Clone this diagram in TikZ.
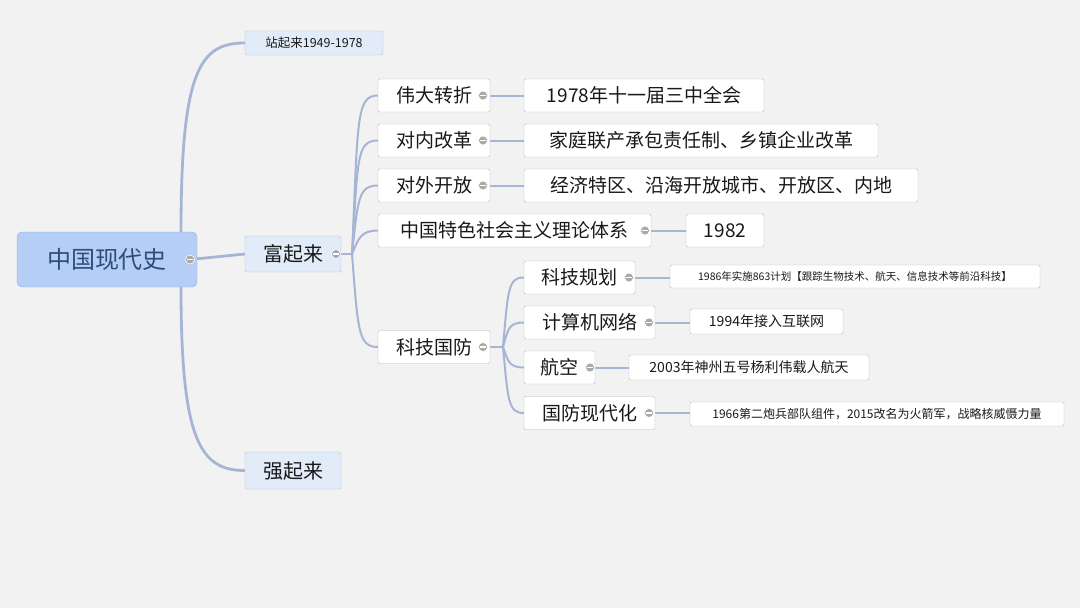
\documentclass[tikz,border=0pt]{standalone}
\usepackage{fontspec}
\usetikzlibrary{backgrounds}
\newfontfamily\cjk{Noto Sans CJK SC}
\definecolor{bg}{HTML}{F2F2F2}
\definecolor{ln}{HTML}{A6B5D6}
\definecolor{rootfill}{HTML}{B5CEF5}
\definecolor{rootdraw}{HTML}{8EACDB}
\definecolor{rootText}{HTML}{2E4C7C}
\definecolor{l1fill}{HTML}{E2EBF8}
\definecolor{l1draw}{HTML}{AFC2E0}
\definecolor{bdr}{HTML}{B8B8B8}
\definecolor{togc}{HTML}{A9A9A9}
\begin{document}
\begin{tikzpicture}[x=1pt,y=-1pt,
  box/.style={draw=bdr,fill=white,rounded corners=2pt,inner sep=0pt,font=\cjk,text=black!90},
  l1/.style={box,draw=l1draw,fill=l1fill},
  tog/.style={circle,fill=togc,draw=white,line width=0.6pt,minimum size=9pt,inner sep=0pt,
    path picture={\draw[white,line width=1.3pt] ([xshift=-2.6pt]path picture bounding box.center) -- ([xshift=2.6pt]path picture bounding box.center);}},
  con/.style={draw=ln,line width=2.8pt},
  con2/.style={draw=ln,line width=2pt}]
\useasboundingbox (0,0) rectangle (1080,608);
% nodes
\node[box,draw=rootdraw,fill=rootfill,text=rootText,rounded corners=5pt,minimum width=180pt,minimum height=55pt,font=\cjk\fontsize{24}{26}\selectfont] (root) at (107,259.5) {中国现代史};
\node[l1,minimum width=138pt,minimum height=24pt,font=\cjk\fontsize{12.5}{14}\selectfont] (zhan) at (314,43) {站起来1949-1978};
\node[l1,minimum width=96pt,minimum height=36pt,font=\cjk\fontsize{20}{22}\selectfont] (fu) at (293,254) {富起来};
\node[l1,minimum width=96pt,minimum height=37pt,font=\cjk\fontsize{20}{22}\selectfont] (qiang) at (293,470.5) {强起来};
\tikzset{b19/.style={box,minimum height=33pt,font=\cjk\fontsize{19}{21}\selectfont}}
\node[b19,minimum width=112pt] (weida) at (434,95.5) {伟大转折};
\node[b19,minimum width=112pt] (duinei) at (434,140.5) {对内改革};
\node[b19,minimum width=112pt] (duiwai) at (434,185.5) {对外开放};
\node[b19,minimum width=273pt] (zg) at (514.5,230.5) {中国特色社会主义理论体系};
\node[b19,minimum width=112pt] (keji) at (434,347) {科技国防};
\node[b19,minimum width=240pt] (y1978) at (644,95.5) {1978年十一届三中全会};
\node[b19,minimum width=354pt] (jt) at (701,140.5) {家庭联产承包责任制、乡镇企业改革};
\node[b19,minimum width=394pt] (jj) at (721,185.5) {经济特区、沿海开放城市、开放区、内地};
\node[b19,minimum width=78pt] (y1982) at (725,230.5) {1982};
\node[b19,minimum width=111pt] (kjgh) at (579.5,277.5) {科技规划};
\node[b19,minimum width=131pt] (jsj) at (589.5,322.5) {计算机网络};
\node[b19,minimum width=71pt] (hk) at (559.5,367.5) {航空};
\node[b19,minimum width=131pt] (gf) at (589.5,413) {国防现代化};
\node[box,minimum width=370pt,minimum height=23pt,font=\cjk\fontsize{10.5}{12}\selectfont] (y1986) at (855,276.5) {1986年实施863计划【跟踪生物技术、航天、信息技术等前沿科技】};
\node[box,minimum width=153pt,minimum height=25pt,font=\cjk\fontsize{14}{16}\selectfont] (y1994) at (766.5,321.5) {1994年接入互联网};
\node[box,minimum width=240pt,minimum height=25pt,font=\cjk\fontsize{14}{16}\selectfont] (y2003) at (749,367.5) {2003年神州五号杨利伟载人航天};
\node[box,minimum width=374pt,minimum height=24pt,font=\cjk\fontsize{12}{14}\selectfont] (y1966) at (877,414) {1966第二炮兵部队组件，2015改名为火箭军，战略核威慑力量};
% toggles
\node[tog] (t0) at (190,259.5) {};
\node[tog] (t1) at (336,254) {};
\node[tog] (t2) at (483,95.5) {};
\node[tog] (t3) at (483,140.5) {};
\node[tog] (t4) at (483,185.5) {};
\node[tog] (t5) at (645,230.5) {};
\node[tog] (t6) at (483,347) {};
\node[tog] (t7) at (629,277.5) {};
\node[tog] (t8) at (649,322.5) {};
\node[tog] (t9) at (590,367.5) {};
\node[tog] (t10) at (649,413) {};
\begin{pgfonlayer}{background}
\fill[bg] (0,0) rectangle (1080,608);
\coordinate (rt) at (181,232);
\coordinate (rb) at (181,287);
\draw[con] (rt) .. controls (181,70) and (200,43) .. (zhan.west);
\draw[con] (rb) .. controls (181,440) and (200,470.5) .. (qiang.west);
\draw[con] (t0.center) -- (fu.west);
\coordinate (fb) at (352,254);
\draw[con2] (t1.center) -- (fb);
\draw[con2] (fb) .. controls (358,120) and (356,95.5) .. (weida.west);
\draw[con2] (fb) .. controls (358,160) and (356,140.5) .. (duinei.west);
\draw[con2] (fb) .. controls (358,200) and (358,185.5) .. (duiwai.west);
\draw[con2] (fb) .. controls (358,240) and (360,230.5) .. (zg.west);
\draw[con2] (fb) .. controls (358,330) and (358,347) .. (keji.west);
\draw[con2] (t2.center) -- (y1978.west);
\draw[con2] (t3.center) -- (jt.west);
\draw[con2] (t4.center) -- (jj.west);
\draw[con2] (t5.center) -- (y1982.west);
\draw[con2] (t7.center) -- (t7.center -| y1986.west);
\draw[con2] (t8.center) -- (t8.center -| y1994.west);
\draw[con2] (t9.center) -- (y2003.west);
\draw[con2] (t10.center) -- (t10.center -| y1966.west);
\coordinate (kb) at (503,347);
\draw[con2] (t6.center) -- (kb);
\draw[con2] (kb) .. controls (508,290) and (508,277.5) .. (kjgh.west);
\draw[con2] (kb) .. controls (508,330) and (508,322.5) .. (jsj.west);
\draw[con2] (kb) .. controls (508,360) and (508,367.5) .. (hk.west);
\draw[con2] (kb) .. controls (508,400) and (508,413) .. (gf.west);
\end{pgfonlayer}
\end{tikzpicture}
\end{document}
